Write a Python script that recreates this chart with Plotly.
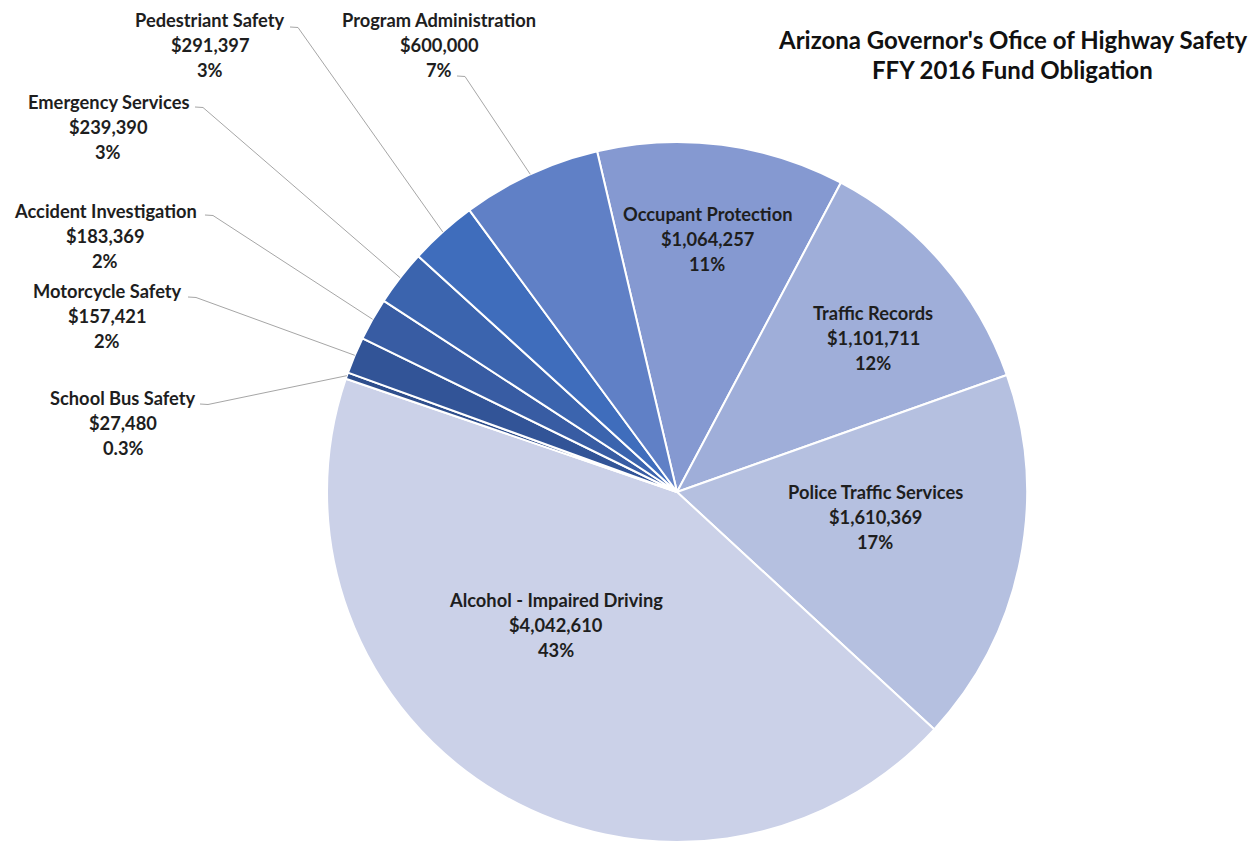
import math
import plotly.graph_objects as go

# ---- data ----
categories = ["Occupant Protection", "Traffic Records", "Police Traffic Services",
              "Alcohol - Impaired Driving", "School Bus Safety", "Motorcycle Safety",
              "Accident Investigation", "Emergency Services", "Pedestriant Safety",
              "Program Administration"]
amounts = [1064257, 1101711, 1610369, 4042610, 27480, 157421, 183369, 239390, 291397, 600000]
pct_labels = ["11%", "12%", "17%", "43%", "0.3%", "2%", "2%", "3%", "3%", "7%"]
amount_labels = ["$1,064,257", "$1,101,711", "$1,610,369", "$4,042,610", "$27,480",
                 "$157,421", "$183,369", "$239,390", "$291,397", "$600,000"]
colors = ["#8599D1", "#9FAED9", "#B5C0E0", "#CBD1E8", "#2E4E8C",
          "#325497", "#385CA3", "#3B64AE", "#3F6DBC", "#6080C6"]

title_lines = ["Arizona Governor's Ofice of Highway Safety", "FFY 2016 Fund Obligation"]

# ---- layout constants (pixels) ----
W, H = 1258, 843
CX, CY, R = 677, 492, 350
ROTATION = -13.2
FONT = "Lato"
LABEL_SIZE = 18.3
TITLE_SIZE = 24

# label centers (x, y of first line) for each category
label_pos = [(707, 214), (873, 313), (875, 492), (556, 600), (123, 398),
             (107, 291), (105, 211), (108, 102), (210, 20), (439, 20)]
# leader-line start points for outside labels (None for inside labels)
leader_start = [None, None, None, None, (200, 404), (188, 297), (205, 215),
                (195, 107), (290, 27), (457, 76)]
LINE_GAP = 25


def px(x):
    return x / W


def py(y):
    return 1 - y / H


fig = go.Figure(go.Pie(
    labels=categories,
    values=amounts,
    sort=False,
    direction="clockwise",
    rotation=ROTATION,
    marker=dict(colors=colors, line=dict(color="white", width=2)),
    textinfo="none",
    hoverinfo="label+value+percent",
    domain=dict(x=[px(CX - R), px(CX + R)], y=[py(CY + R), py(CY - R)]),
    showlegend=False,
))

annotations = []
shapes = []
total = sum(amounts)
cum = 0.0
for i, name in enumerate(categories):
    start = ROTATION + 360 * cum / total
    cum += amounts[i]
    end = ROTATION + 360 * cum / total
    mid = math.radians((start + end) / 2)
    lx, ly = label_pos[i]
    for k, line in enumerate([name, amount_labels[i], pct_labels[i]]):
        annotations.append(dict(
            x=px(lx), y=py(ly + k * LINE_GAP), xref="paper", yref="paper",
            text="<b>%s</b>" % line, showarrow=False, xanchor="center", yanchor="middle",
            font=dict(family=FONT, size=LABEL_SIZE, color="#1E1E1E")))
    if leader_start[i] is not None:
        sx, sy = leader_start[i]
        ex = CX + R * math.sin(mid)
        ey = CY - R * math.cos(mid)
        path = "M %f %f L %f %f L %f %f" % (px(sx), py(sy), px(sx + 8), py(sy + 0.5), px(ex), py(ey))
        shapes.append(dict(type="path", path=path, xref="paper", yref="paper",
                           line=dict(color="#A6A6A6", width=1)))

for k, t in enumerate(title_lines):
    annotations.append(dict(
        x=px(1012), y=py(40 + k * 30), xref="paper", yref="paper",
        text="<b>%s</b>" % t, showarrow=False, xanchor="center", yanchor="middle",
        font=dict(family=FONT, size=TITLE_SIZE, color="#111111")))

fig.update_layout(
    width=W, height=H,
    margin=dict(l=0, r=0, t=0, b=0),
    paper_bgcolor="white", plot_bgcolor="white",
    annotations=annotations, shapes=shapes,
)

fig.write_html("out.html",
               config={"displayModeBar": False},
               post_script="document.body.style.margin='0';document.body.style.overflow='hidden';")
